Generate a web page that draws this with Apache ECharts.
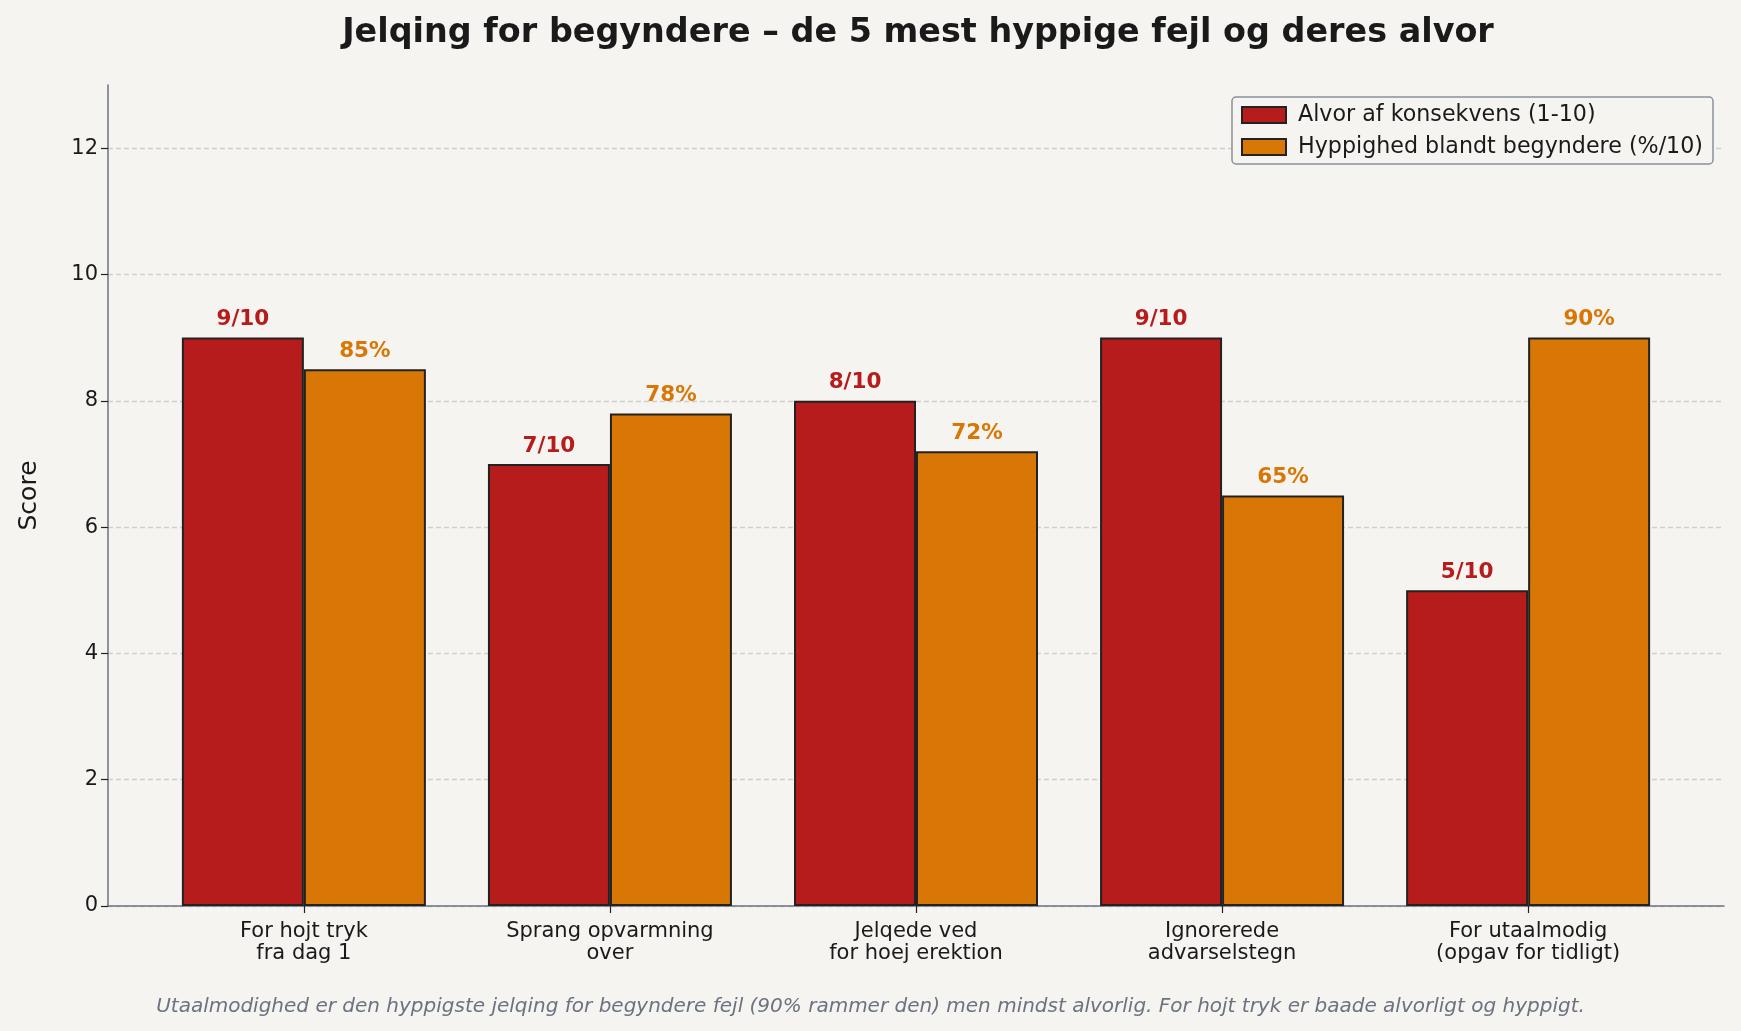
<!DOCTYPE html>
<html>
<head>
<meta charset="utf-8">
<script src="https://cdn.jsdelivr.net/npm/echarts@6/dist/echarts.min.js"></script>
<style>
  html, body { margin: 0; padding: 0; background: #F5F4F0; }
  #chart { width: 1741px; height: 1031px; }
</style>
</head>
<body>
<div id="chart"></div>
<script>
// categories and values
var categories = [
  'For hojt tryk\nfra dag 1',
  'Sprang opvarmning\nover',
  'Jelqede ved\nfor hoej erektion',
  'Ignorerede\nadvarselstegn',
  'For utaalmodig\n(opgav for tidligt)'
];
var alvor = [9, 7, 8, 9, 5];
var hyppighed = [8.5, 7.8, 7.2, 6.5, 9.0];
var yTicks = [0, 2, 4, 6, 8, 10, 12];
var xTicks = [0, 1, 2, 3, 4];

var font = 'DejaVu Sans';
var red = '#B71C1C';
var orange = '#D97706';

var chart = echarts.init(document.getElementById('chart'));

var option = {
  backgroundColor: '#F5F4F0',
  textStyle: { fontFamily: font },
  title: {
    text: 'Jelqing for begyndere \u2013 de 5 mest hyppige fejl og deres alvor',
    left: 913,
    top: 12,
    textAlign: 'center',
    textStyle: { fontFamily: font, fontSize: 33.4, fontWeight: 'bold', color: '#1a1a1a' }
  },
  graphic: [{
    type: 'text',
    left: 'center',
    top: 997,
    style: {
      text: 'Utaalmodighed er den hyppigste jelqing for begyndere fejl (90% rammer den) men mindst alvorlig. For hojt tryk er baade alvorligt og hyppigt.',
      font: 'italic 20px "DejaVu Sans"',
      fill: '#6B7280'
    }
  }],
  legend: {
    orient: 'vertical',
    right: 28,
    top: 97,
    icon: 'rect',
    itemWidth: 44,
    itemHeight: 16,
    itemGap: 10,
    padding: [7, 10, 6, 9],
    backgroundColor: '#F5F4F0',
    borderColor: '#8A909A',
    borderWidth: 1.5,
    borderRadius: 4,
    textStyle: { fontFamily: font, fontSize: 22.2, color: '#1a1a1a', padding: [0, 0, 0, 7] },
    data: ['Alvor af konsekvens (1-10)', 'Hyppighed blandt begyndere (%/10)']
  },
  grid: { left: 108, right: 17, top: 85, bottom: 125 },
  xAxis: {
    type: 'value',
    min: -0.64,
    max: 4.64,
    splitLine: { show: false },
    axisLine: { show: true, onZero: false, lineStyle: { color: '#6B7280', width: 1.5 } },
    axisTick: { show: true, customValues: xTicks, length: 7, lineStyle: { color: '#222', width: 1.2 } },
    axisLabel: {
      customValues: xTicks,
      margin: 15,
      fontFamily: font,
      fontSize: 21,
      lineHeight: 22,
      color: '#1a1a1a',
      formatter: function (v) { return categories[Math.round(v)]; }
    }
  },
  yAxis: {
    type: 'value',
    min: 0,
    max: 13,
    name: 'Score',
    nameLocation: 'middle',
    nameGap: 66,
    nameTextStyle: { fontFamily: font, fontSize: 25, color: '#1a1a1a' },
    axisLine: { show: true, onZero: false, lineStyle: { color: '#6B7280', width: 1.5 } },
    axisTick: { show: true, customValues: yTicks, length: 7, lineStyle: { color: '#222', width: 1.2 } },
    axisLabel: { customValues: yTicks, margin: 10, fontFamily: font, fontSize: 21, color: '#1a1a1a' },
    splitLine: { show: true, lineStyle: { color: '#CFCFCF', type: [5, 3], width: 1.3 } }
  },
  series: [
    {
      name: 'Alvor af konsekvens (1-10)',
      type: 'bar',
      barWidth: 122,
      barGap: '0%',
      data: alvor.map(function (v, i) { return [i, v]; }),
      itemStyle: { color: red, borderColor: '#222', borderWidth: 2 },
      label: {
        show: true,
        position: 'top',
        distance: 7,
        fontFamily: font,
        fontSize: 21.5,
        fontWeight: 'bold',
        color: red,
        formatter: function (p) { return p.value[1] + '/10'; }
      }
    },
    {
      name: 'Hyppighed blandt begyndere (%/10)',
      type: 'bar',
      barWidth: 122,
      barGap: '0%',
      data: hyppighed.map(function (v, i) { return [i, v]; }),
      itemStyle: { color: orange, borderColor: '#222', borderWidth: 2 },
      label: {
        show: true,
        position: 'top',
        distance: 7,
        fontFamily: font,
        fontSize: 21.5,
        fontWeight: 'bold',
        color: orange,
        formatter: function (p) { return Math.round(p.value[1] * 10) + '%'; }
      }
    }
  ]
};

chart.setOption(option);
</script>
</body>
</html>
